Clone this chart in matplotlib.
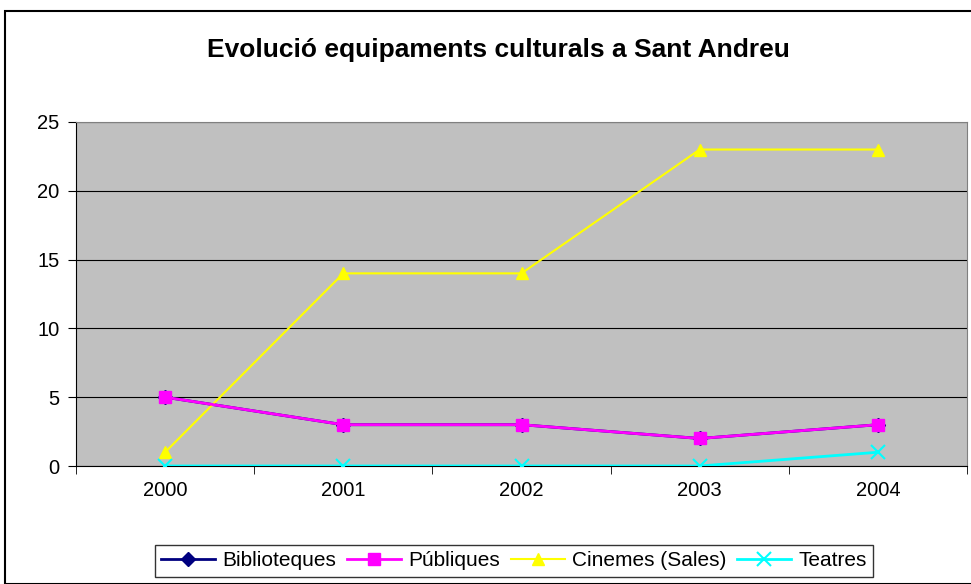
import numpy as np
import matplotlib.pyplot as plt
from matplotlib.patches import Rectangle

plt.rcParams['font.family'] = ['Liberation Sans', 'DejaVu Sans']

years = ['2000', '2001', '2002', '2003', '2004']
biblioteques = [5, 3, 3, 2, 3]
publiques = [5, 3, 3, 2, 3]
cinemes = [1, 14, 14, 23, 23]
teatres = [0, 0, 0, 0, 1]

fig = plt.figure(figsize=(9.71, 5.84), dpi=100)
fig.patches.append(Rectangle((5 / 971, 0), 1, 1 - 11 / 584, transform=fig.transFigure,
                             fill=False, edgecolor='black', linewidth=1.5))
ax = fig.add_axes([76 / 971, 1 - 466 / 584, 891 / 971, 344 / 584])
ax.set_facecolor('#c0c0c0')

x = np.arange(len(years))
ax.plot(x, biblioteques, color='#000080', marker='D', markersize=7, lw=2, label='Biblioteques', zorder=3)
ax.plot(x, publiques, color='#ff00ff', marker='s', markersize=8, lw=2, label='Públiques', zorder=4)
ax.plot(x, cinemes, color='#ffff00', marker='^', markersize=9, lw=1.5, label='Cinemes (Sales)', zorder=3)
ax.plot(x, teatres, color='#00ffff', marker='x', markersize=10, mew=1.5, lw=2, label='Teatres', zorder=3)

ax.set_xlim(-0.5, 4.5)
ax.set_ylim(0, 25)
ax.set_yticks(range(0, 26, 5))
ax.set_xticks(x)
ax.set_xticklabels(years)
ax.set_xticks(np.arange(-0.5, 4.6, 1), minor=True)
ax.tick_params(axis='x', which='major', length=0, pad=11, labelsize=14.5)
ax.tick_params(axis='x', which='minor', length=6, direction='out')
ax.tick_params(axis='y', length=6, direction='out', labelsize=14.5, pad=6)
ax.yaxis.grid(True, color='black', lw=0.8)
ax.set_axisbelow(True)
for s in ['top', 'right']:
    ax.spines[s].set_color('#808080')
ax.spines['left'].set_color('black')
ax.spines['bottom'].set_color('black')

fig.text(498 / 971, 1 - 50 / 584, 'Evolució equipaments culturals a Sant Andreu',
         ha='center', va='center', fontsize=19, fontweight='bold')

leg = fig.legend(loc='center', bbox_to_anchor=(514 / 971, 1 - 561 / 584), ncol=4, frameon=True,
                 fancybox=False, edgecolor='black', fontsize=15, handlelength=2.6,
                 columnspacing=0.5, handletextpad=0.35, borderpad=0.3, borderaxespad=0)
leg.get_frame().set_linewidth(1)

fig.savefig('out.png', dpi=100)
